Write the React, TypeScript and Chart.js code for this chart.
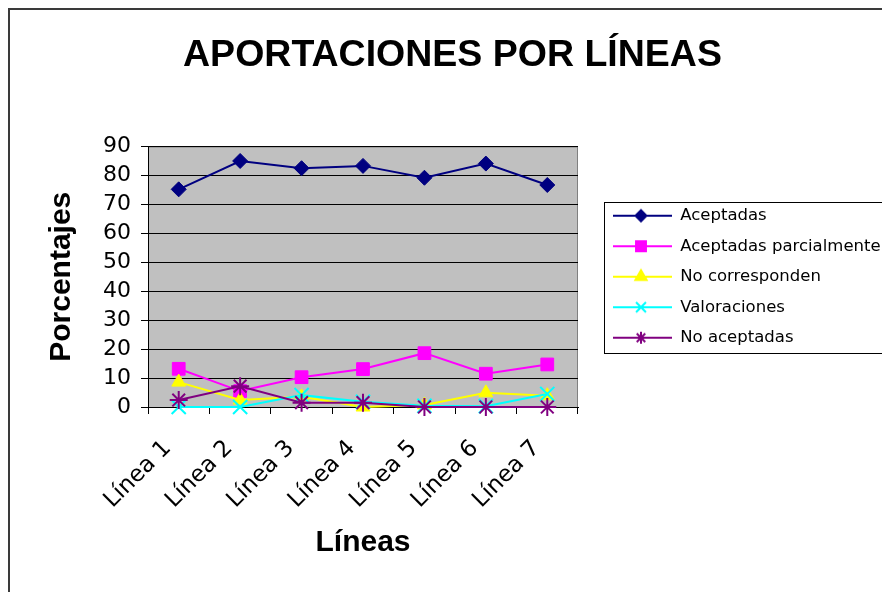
import React, { useEffect, useRef } from 'react';
import { Chart, registerables } from 'chart.js';
import { drawPoint } from 'chart.js/helpers';

Chart.register(...registerables);

const categories = ['Línea 1', 'Línea 2', 'Línea 3', 'Línea 4', 'Línea 5', 'Línea 6', 'Línea 7'];
const aceptadas = [75.2, 85.0, 82.5, 83.3, 79.2, 84.1, 76.7];
const aceptadasParcialmente = [13.2, 5.5, 10.3, 13.1, 18.6, 11.5, 14.7];
const noCorresponden = [8.6, 2.4, 3.5, 0, 0.7, 4.9, 3.9];
const valoraciones = [0, 0, 4.1, 1.8, 0.4, 0.3, 4.5];
const noAceptadas = [2.4, 7.2, 1.5, 1.5, 0, 0, 0];
const yTicks = [0, 10, 20, 30, 40, 50, 60, 70, 80, 90];

const seriesNames = ['Aceptadas', 'Aceptadas parcialmente', 'No corresponden', 'Valoraciones', 'No aceptadas'];
const seriesData = [aceptadas, aceptadasParcialmente, noCorresponden, valoraciones, noAceptadas];
const seriesColors = ['#000080', '#ff00ff', '#ffff00', '#00ffff', '#800080'];
const seriesStyles = ['rectRot', 'rect', 'triangle', 'crossRot', 'star'];
const seriesRadius = [7.5, 9, 8, 10, 9];
const legendRadius = [5.5, 7, 6.5, 7, 6];

const TICK_FONT = "'DejaVu Sans', sans-serif";
const BOLD_FONT = "'Liberation Sans', Arial, sans-serif";

const CANVAS_W = 905;
const CANVAS_H = 592;
const PLOT_LEFT = 148;
const PLOT_RIGHT = 578;
const YTITLE_X = 62;

function legendIcon(i: number) {
  const c = document.createElement('canvas');
  c.width = 80;
  c.height = 20;
  const ctx = c.getContext('2d') as CanvasRenderingContext2D;
  ctx.strokeStyle = seriesColors[i];
  ctx.fillStyle = seriesColors[i];
  ctx.lineWidth = 2;
  ctx.beginPath();
  ctx.moveTo(21, 10);
  ctx.lineTo(80, 10);
  ctx.stroke();
  drawPoint(ctx, { pointStyle: seriesStyles[i] as any, radius: legendRadius[i], rotation: 0, borderWidth: 2 } as any, 49, 10);
  return c;
}

const decor = {
  id: 'decor',
  beforeDraw(chart: any) {
    const { ctx, chartArea: a } = chart;
    ctx.save();
    ctx.fillStyle = '#c0c0c0';
    ctx.fillRect(a.left, a.top, a.right - a.left, a.bottom - a.top);
    ctx.strokeStyle = '#808080';
    ctx.lineWidth = 1;
    ctx.beginPath();
    ctx.moveTo(a.left, a.top + 0.5);
    ctx.lineTo(a.right - 0.5, a.top + 0.5);
    ctx.lineTo(a.right - 0.5, a.bottom);
    ctx.stroke();
    ctx.restore();
  },
  afterDraw(chart: any) {
    const { ctx } = chart;
    ctx.save();
    ctx.strokeStyle = '#3a3a3a';
    ctx.lineWidth = 2;
    ctx.strokeRect(9, 9, chart.width + 50, chart.height + 50);
    const lg = chart.legend;
    const hb = lg.legendHitBoxes;
    if (hb && hb.length) {
      const left = Math.round(chart.chartArea.right + 26) + 0.5;
      const top = Math.round(hb[0].top - 6) + 0.5;
      const bottom = Math.round(hb[hb.length - 1].top + hb[hb.length - 1].height + 7) + 0.5;
      ctx.strokeStyle = '#000';
      ctx.lineWidth = 1;
      ctx.strokeRect(left, top, chart.width + 50, bottom - top);
    }
    ctx.restore();
  },
};

export default function App() {
  const ref = useRef<HTMLCanvasElement>(null);
  useEffect(() => {
    const canvas = ref.current as HTMLCanvasElement;
    const icons = seriesNames.map((_, i) => legendIcon(i));
    const lay = { side: 30 };
    const chart = new Chart(canvas, {
      type: 'line',
      data: {
        labels: categories,
        datasets: seriesNames.map((name, i) => ({
          label: name,
          data: seriesData[i],
          borderColor: seriesColors[i],
          backgroundColor: seriesColors[i],
          borderWidth: 2,
          pointStyle: seriesStyles[i] as any,
          pointRadius: seriesRadius[i],
          pointHoverRadius: seriesRadius[i],
          pointBorderWidth: i >= 3 ? 2 : 1,
          pointBackgroundColor: seriesColors[i],
          pointBorderColor: seriesColors[i],
          tension: 0,
          clip: false as any,
          order: seriesNames.length - i,
        })),
      },
      options: {
        responsive: false,
        animation: false,
        devicePixelRatio: 1,
        layout: { padding: { left: lay.side, right: lay.side, top: 0, bottom: 0 } },
        plugins: {
          tooltip: { enabled: false },
          title: {
            display: true,
            text: 'APORTACIONES POR LÍNEAS',
            color: '#000',
            font: { family: BOLD_FONT, size: 37.5, weight: 'bold' },
            padding: { top: 33, bottom: 68.5 },
          },
          legend: {
            position: 'right',
            fullSize: false,
            maxWidth: 340,
            align: 'center',
            labels: {
              usePointStyle: true,
              pointStyleWidth: 80,
              padding: 14,
              color: '#000',
              font: { family: TICK_FONT, size: 16.5 },
              sort: (a: any, b: any) => a.datasetIndex - b.datasetIndex,
              generateLabels: (ch: any) => {
                const items = Chart.defaults.plugins.legend.labels.generateLabels(ch);
                return items.map((it: any) => ({ ...it, pointStyle: icons[it.datasetIndex] }));
              },
            },
          },
        },
        scales: {
          x: {
            type: 'category',
            offset: true,
            afterFit: (s: any) => { s.height = 185; },
            grid: { drawOnChartArea: false, drawTicks: true, tickLength: 7, color: '#000', offset: true },
            border: { color: '#000', width: 1 },
            ticks: {
              minRotation: 45,
              maxRotation: 45,
              autoSkip: false,
              color: '#000',
              padding: 21,
              labelOffset: -11,
              font: { family: TICK_FONT, size: 23 },
            },
            title: {
              display: true,
              text: 'Líneas',
              color: '#000',
              font: { family: BOLD_FONT, size: 30, weight: 'bold' },
              padding: { top: 0, bottom: 31 },
            },
          },
          y: {
            min: 0,
            max: 90,
            afterFit: (s: any) => { s.width = PLOT_LEFT - lay.side; },
            afterBuildTicks: (s: any) => { s.ticks = yTicks.map((v) => ({ value: v })); },
            grid: { color: '#000', lineWidth: 1, tickLength: 7, drawTicks: true },
            border: { color: '#000', width: 1 },
            ticks: {
              autoSkip: false,
              color: '#000',
              padding: 10,
              font: { family: TICK_FONT, size: 22 },
            },
            title: {
              display: true,
              text: 'Porcentajes',
              color: '#000',
              font: { family: BOLD_FONT, size: 30, weight: 'bold' },
              padding: { top: YTITLE_X - lay.side - 18, bottom: 0 },
            },
          },
        },
      },
      plugins: [decor],
    } as any);
    // align plot area right edge / legend with the reference layout
    const lw = chart.legend ? chart.legend.width : 300;
    lay.side = CANVAS_W - PLOT_RIGHT - lw;
    const o: any = chart.options;
    o.layout.padding = { left: lay.side, right: lay.side, top: 0, bottom: 0 };
    o.scales.y.title.padding = { top: YTITLE_X - lay.side - 18, bottom: 0 };
    chart.update();
    return () => chart.destroy();
  }, []);
  return (
    <div style={{ position: 'absolute', left: 0, top: 0, width: 882, height: 592, overflow: 'hidden', background: '#fff' }}>
      <canvas ref={ref} width={CANVAS_W} height={CANVAS_H} style={{ display: 'block' }} />
    </div>
  );
}
